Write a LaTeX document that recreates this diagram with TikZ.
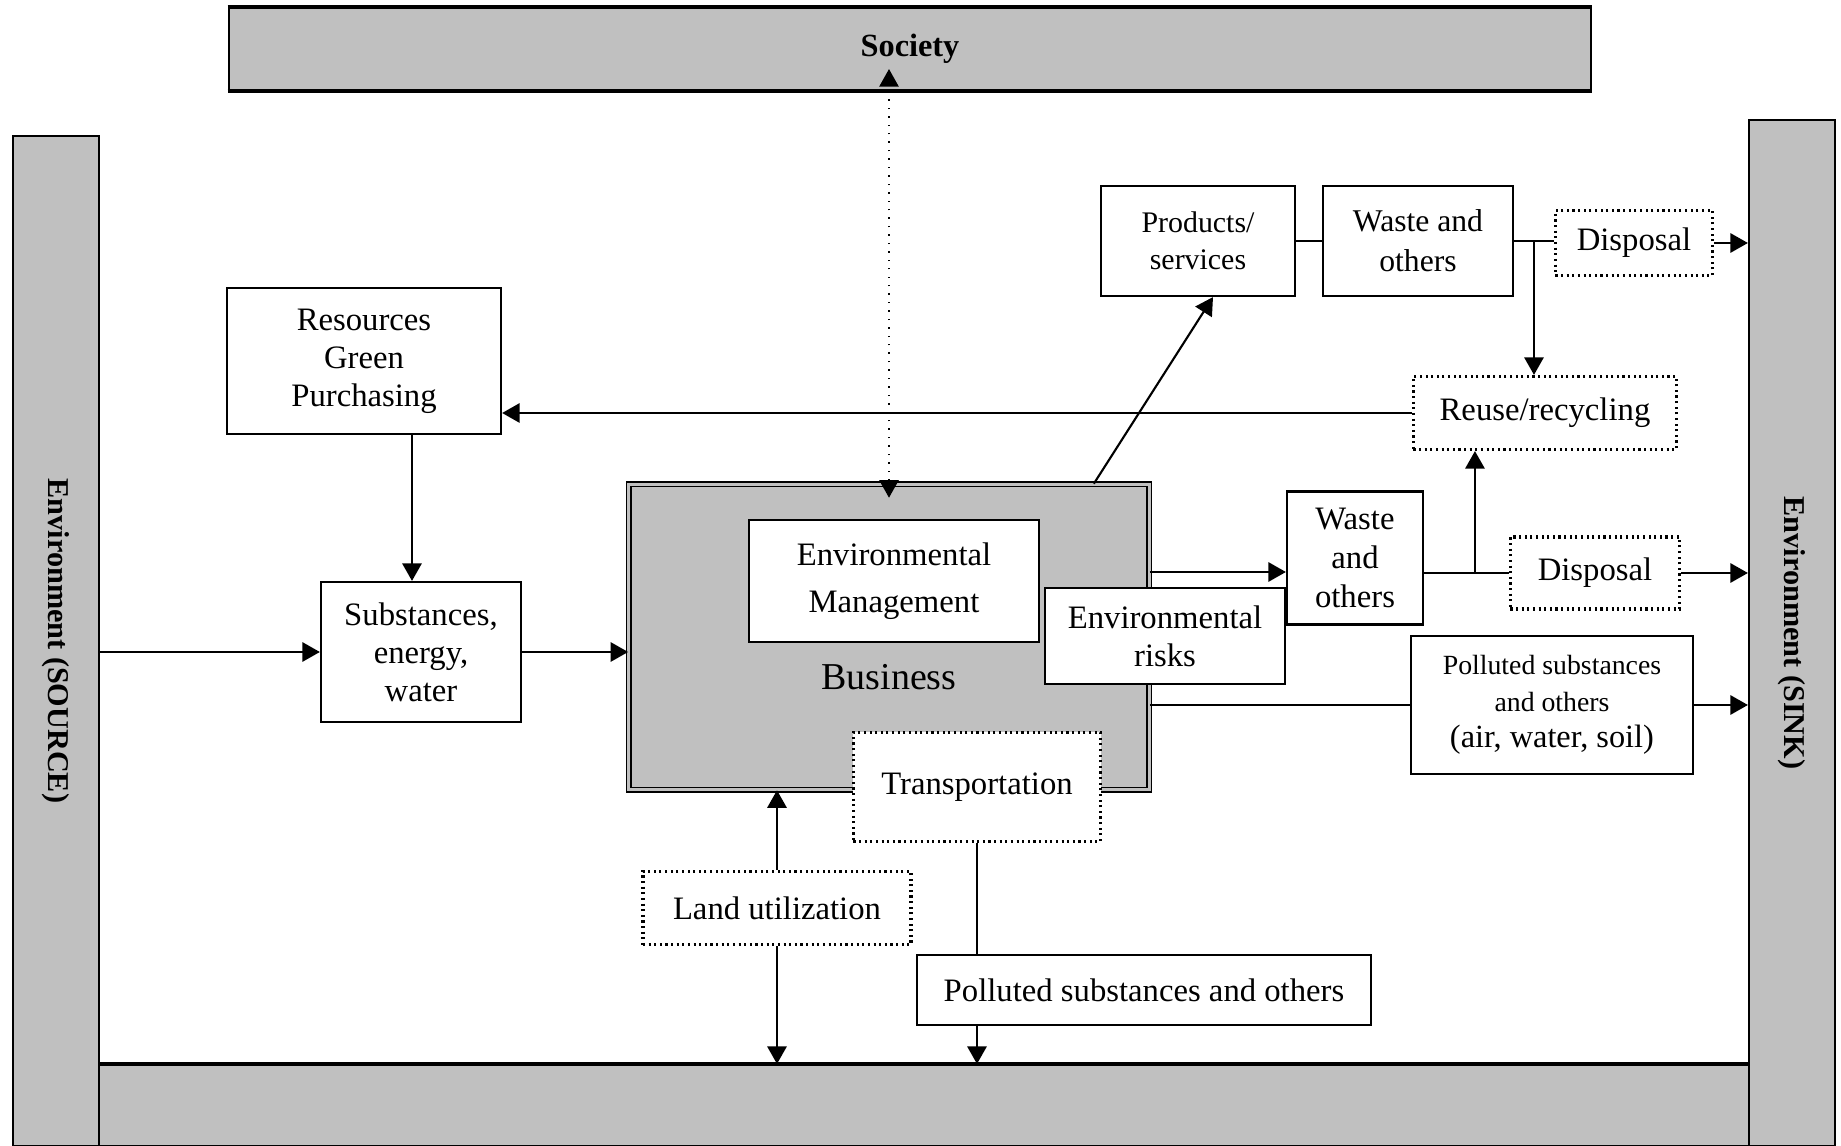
\documentclass[tikz,border=0pt]{standalone}
\usepackage{fontspec}
\setmainfont{Liberation Serif}
\usetikzlibrary{arrows.meta,calc}
\definecolor{bargray}{HTML}{C0C0C0}

\begin{document}
\begin{tikzpicture}[x=0.01cm, y=-0.01cm,
	font=\fontsize{9.3}{10.8}\selectfont,
	box/.style={draw, fill=white, line width=0.6pt, align=center, inner sep=1pt},
	dotbox/.style={box, densely dotted, line width=0.9pt},
	bar/.style={draw, fill=bargray, line width=0.6pt, inner sep=0pt},
	flow/.style={line width=0.6pt, -{Triangle[length=5pt,width=5.5pt]}},
	link/.style={line width=0.6pt}]
	\useasboundingbox (0,0) rectangle (1841,1146);

	% the three environments and society
	\node[bar, minimum width=13.62cm, minimum height=0.82cm, font=\bfseries\fontsize{9.2}{11}\selectfont] (society) at (910,49) {Society};
	\draw[line width=0.9pt] (society.north west) -- (society.north east) (society.south west) -- (society.south east);
	\node[bar, minimum width=16.50cm, minimum height=0.81cm] (ground) at (924,1105.5) {};
	\draw[line width=1.1pt] (ground.north west) -- (ground.north east);
	\node[bar, minimum width=0.86cm, minimum height=10.10cm, label={[rotate=-90, font=\bfseries\fontsize{8.6}{10}\selectfont]center:Environment (SOURCE)}] (source) at (56,641) {};
	\node[bar, minimum width=0.86cm, minimum height=10.26cm, label={[rotate=-90, font=\bfseries\fontsize{8.6}{10}\selectfont]center:Environment (SINK)}] (sink) at (1792,633) {};

	% business and what sits on it
	\node[draw, fill=bargray, line width=0.4pt, double=bargray, double distance=0.9pt, minimum width=5.20cm, minimum height=3.05cm, label={[font=\fontsize{10.8}{12}\selectfont, yshift=-0.4cm]center:Business}] (business) at (889,637) {};
	\node[box, minimum width=2.90cm, minimum height=1.22cm, font=\fontsize{9.3}{13.3}\selectfont] (envmgmt) at (894,581) {Environmental\\Management};
	\node[box, minimum width=2.40cm, minimum height=0.96cm] (envrisk) at (1165,636) {Environmental\\risks};
	\node[dotbox, minimum width=2.47cm, minimum height=1.09cm] (transport) at (977,787) {Transportation};
	\node[dotbox, minimum width=2.68cm, minimum height=0.73cm] (landuse) at (777,908) {Land utilization};
	\node[box, minimum width=4.54cm, minimum height=0.70cm] (pollbottom) at (1144,990) {Polluted substances and others};

	% input side
	\node[box, minimum width=2.74cm, minimum height=1.46cm] (resources) at (364,361) {Resources\\Green\\Purchasing};
	\node[box, minimum width=2.00cm, minimum height=1.40cm] (substances) at (421,652) {Substances,\\energy,\\water};

	% output side
	\node[box, minimum width=1.94cm, minimum height=1.10cm, font=\fontsize{8.5}{10.6}\selectfont] (products) at (1198,241) {Products/\\services};
	\node[box, minimum width=1.90cm, minimum height=1.10cm, font=\fontsize{9}{11.3}\selectfont] (wastetop) at (1418,241) {Waste and\\others};
	\node[dotbox, minimum width=1.57cm, minimum height=0.65cm] (disptop) at (1634,243) {Disposal};
	\node[dotbox, minimum width=2.63cm, minimum height=0.73cm] (reuse) at (1545,413) {Reuse/recycling};
	\node[box, minimum width=1.36cm, minimum height=1.33cm, font=\fontsize{9.3}{11.2}\selectfont] (wastemid) at (1355,558) {Waste\\and\\others};
	\node[dotbox, minimum width=1.69cm, minimum height=0.72cm] (dispmid) at (1595,573) {Disposal};
	\node[box, minimum width=2.81cm, minimum height=1.38cm, font=\fontsize{9.2}{10.3}\selectfont] (pollright) at (1552,705) {{\fontsize{7.9}{9.3}\selectfont Polluted substances}\\{\fontsize{7.9}{9.3}\selectfont and others}\\(air, water, soil)};

	% flows
	\draw[flow] (source.east |- substances.west) -- (substances.west);
	\draw[flow] ([xshift=-0.09cm]resources.south -| substances.north) -- ([xshift=-0.09cm]substances.north);
	\draw[flow] (substances.east) -- (substances.east -| business.west);
	\draw[dotted, line width=0.4pt, {Triangle[length=5pt,width=5.5pt]}-{Triangle[length=5pt,width=5.5pt]}, shorten <=-0.14cm, shorten >=-0.22cm] (business.north) -- (business.north |- society.south);
	\draw[flow] ([xshift=-0.56cm]business.north east) -- ([xshift=0.15cm]products.south);
	\draw[link] (products.east) -- (wastetop.west);
	\draw[link] (wastetop.east) -- (wastetop.east -| disptop.west);
	\coordinate (wt split) at ($(wastetop.east)!0.5!(wastetop.east -| disptop.west)$);
	\draw[flow] (wt split) -- (wt split |- reuse.north);
	\draw[flow] (disptop.east) -- (disptop.east -| sink.west);
	\draw[flow] (reuse.west) -- (reuse.west -| resources.east);
	\coordinate (wm in) at ([yshift=-0.14cm]wastemid.west);
	\draw[flow] (wm in -| business.east) -- (wm in);
	\draw[link] (wastemid.east |- dispmid.west) -- (dispmid.west);
	\coordinate (wm split) at ($(wastemid.east |- dispmid.west)!0.6!(dispmid.west)$);
	\draw[flow] (wm split) -- (wm split |- reuse.south);
	\draw[flow] (dispmid.east) -- (dispmid.east -| sink.west);
	\draw[link] (pollright.west -| business.east) -- (pollright.west);
	\draw[flow] (pollright.east) -- (pollright.east -| sink.west);
	\draw[flow] (landuse.north) -- (landuse.north |- business.south);
	\draw[flow] (landuse.south) -- (landuse.south |- ground.north);
	\draw[link] (transport.south) -- (transport.south |- pollbottom.north);
	\draw[flow] (transport.south |- pollbottom.south) -- (transport.south |- ground.north);
\end{tikzpicture}
\end{document}
